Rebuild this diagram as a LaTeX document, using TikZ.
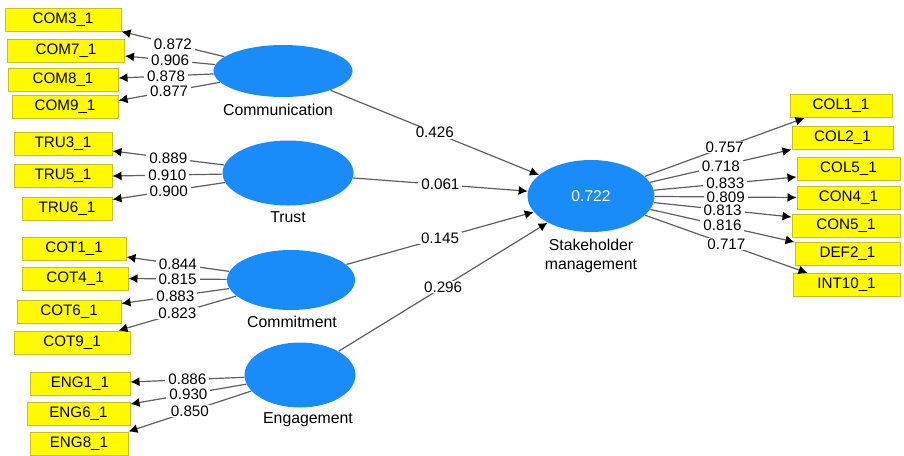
\documentclass[tikz,border=0pt]{standalone}
\usepackage{fontspec}
\setmainfont{Liberation Sans}
\usetikzlibrary{shapes.geometric,arrows.meta}

\definecolor{boxfill}{RGB}{255,250,0}
\definecolor{boxline}{RGB}{200,190,40}
\definecolor{latblue}{RGB}{26,140,250}
\definecolor{linegray}{RGB}{95,95,95}

\tikzset{
  ind/.style={draw=boxline, fill=boxfill, line width=0.5pt, inner sep=0pt,
    minimum height=11.5pt, font=\fontsize{7.6}{9}\selectfont},
  lat/.style={ellipse, fill=latblue, inner sep=0pt},
  latname/.style={font=\fontsize{7.9}{9.6}\selectfont, align=center, inner sep=0pt},
  lbl/.style={fill=white, inner xsep=1.5pt, inner ysep=0.3pt, font=\fontsize{7.6}{9}\selectfont},
  arrowline/.style={draw=linegray, line width=0.6pt,
    -{Latex[length=4.5pt,width=4.5pt,black]}}
}

\begin{document}
\begin{tikzpicture}[x=0.5pt,y=-0.5pt]

    \useasboundingbox (0,0) rectangle (904,455);

    % latent variables
    \node[lat, minimum width=69.5pt, minimum height=26pt] (comm) at (283,71) {};
    \node[lat, minimum width=65.5pt, minimum height=32.5pt] (trust) at (288,173) {};
    \node[lat, minimum width=64pt, minimum height=30pt] (commit) at (291,280) {};
    \node[lat, minimum width=55.5pt, minimum height=32.5pt] (engage) at (300,375) {};
    \node[lat, minimum width=63.5pt, minimum height=36pt,
      text=white, font=\fontsize{7.8}{9}\selectfont] (sm) at (591,196) {0.722};

    \node[latname] (commlabel) at (278,110) {Communication};
    \node[latname] (trustlabel) at (288,217) {Trust};
    \node[latname] (commitlabel) at (292,322) {Commitment};
    \node[latname] (engagelabel) at (308,420) {Engagement};
    \node[latname] (smlabel) at (591,256) {Stakeholder\\management};

    % indicators, left
    \node[ind, minimum width=58pt] (com3) at (63,19.5) {COM3\_1};
    \node[ind, minimum width=58.5pt] (com7) at (66,51) {COM7\_1};
    \node[ind, minimum width=55pt] (com8) at (63,80) {COM8\_1};
    \node[ind, minimum width=53pt] (com9) at (65,106.5) {COM9\_1};

    \node[ind, minimum width=49pt] (tru3) at (63,144) {TRU3\_1};
    \node[ind, minimum width=49pt] (tru5) at (63,176) {TRU5\_1};
    \node[ind, minimum width=45pt] (tru6) at (67,208.5) {TRU6\_1};

    \node[ind, minimum width=52pt] (cot1) at (74,248.5) {COT1\_1};
    \node[ind, minimum width=53pt] (cot4) at (75,278.5) {COT4\_1};
    \node[ind, minimum width=52pt] (cot6) at (69,311.5) {COT6\_1};
    \node[ind, minimum width=58pt] (cot9) at (72,342.5) {COT9\_1};

    \node[ind, minimum width=50pt] (eng1) at (80,384) {ENG1\_1};
    \node[ind, minimum width=51.5pt] (eng6) at (78.5,414) {ENG6\_1};
    \node[ind, minimum width=49pt] (eng8) at (79,443.5) {ENG8\_1};

    % indicators, right
    \node[ind, minimum width=51pt] (col1) at (841,106) {COL1\_1};
    \node[ind, minimum width=50.5pt] (col2) at (842.5,137.5) {COL2\_1};
    \node[ind, minimum width=51.5pt] (col5) at (848.5,169) {COL5\_1};
    \node[ind, minimum width=51.5pt] (con4) at (848.5,197.5) {CON4\_1};
    \node[ind, minimum width=54pt] (con5) at (846,226) {CON5\_1};
    \node[ind, minimum width=52.5pt] (def2) at (847.5,254) {DEF2\_1};
    \node[ind, minimum width=53.5pt] (int10) at (846.5,285) {INT10\_1};

    % loadings
    \draw[arrowline] (comm) -- node[lbl] {0.872} (com3.south east);
    \draw[arrowline] (comm) -- node[lbl] {0.906} ([yshift=-2.5pt]com7.east);
    \draw[arrowline] (comm) -- node[lbl] {0.878} ([yshift=1pt]com8.east);
    \draw[arrowline] (comm) -- node[lbl] {0.877} ([yshift=-3pt]com9.north east);

    \draw[arrowline] (trust) -- node[lbl] {0.889} ([yshift=-3.5pt]tru3.east);
    \draw[arrowline] (trust) -- node[lbl] {0.910} (tru5.east);
    \draw[arrowline] (trust) -- node[lbl] {0.900} ([yshift=-1.5pt]tru6.north east);

    \draw[arrowline] (commit) -- node[lbl] {0.844} ([yshift=-4.25pt]cot1.east);
    \draw[arrowline] (commit) -- node[lbl] {0.815} (cot4.east);
    \draw[arrowline] (commit) -- node[lbl] {0.883} ([yshift=-2pt]cot6.north east);
    \draw[arrowline] (commit) -- node[lbl] {0.823} ([xshift=-6pt]cot9.north east);

    \draw[arrowline] (engage) -- node[lbl] {0.886} ([yshift=1pt]eng1.east);
    \draw[arrowline] (engage) -- node[lbl] {0.930} ([yshift=-1pt]eng6.north east);
    \draw[arrowline] (engage) -- node[lbl] {0.850} (eng8.north east);

    \draw[arrowline] (sm) -- node[lbl] {0.757} ([xshift=7.5pt]col1.south west);
    \draw[arrowline] (sm) -- node[lbl] {0.718} (col2.south west);
    \draw[arrowline] (sm) -- node[lbl] {0.833} ([yshift=-4pt]col5.west);
    \draw[arrowline] (sm) -- node[lbl] {0.809} (con4.west);
    \draw[arrowline] (sm) -- node[lbl] {0.813} ([yshift=-1.5pt]con5.north west);
    \draw[arrowline] (sm) -- node[lbl] {0.816} (def2.north west);
    \draw[arrowline] (sm) -- node[lbl] {0.717} ([xshift=7.5pt]int10.north west);

    % paths
    \draw[arrowline] (comm) -- node[lbl] {0.426} (sm);
    \draw[arrowline] (trust) -- node[lbl] {0.061} (sm);
    \draw[arrowline] (commit) -- node[lbl] {0.145} (sm);
    \draw[arrowline] (engage) -- node[lbl] {0.296} (sm);

\end{tikzpicture}
\end{document}
